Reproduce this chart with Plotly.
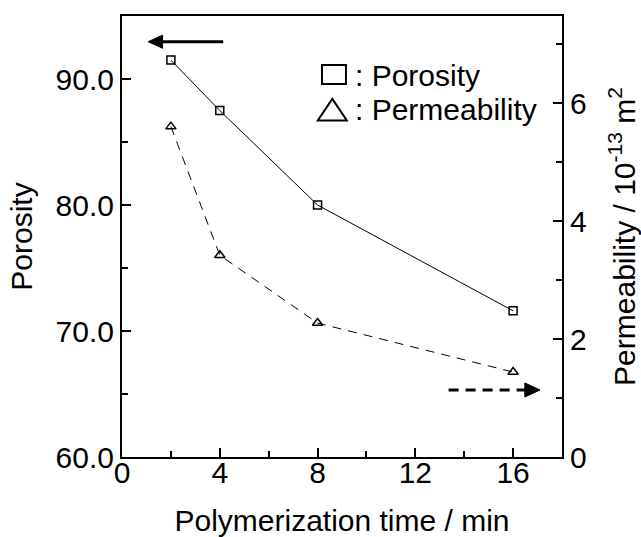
import plotly.graph_objects as go

# Data
time_min = [2, 4, 8, 16]
porosity = [91.5, 87.5, 80.0, 71.6]
permeability = [5.6, 3.42, 2.27, 1.44]

x_ticks = [0, 4, 8, 12, 16]
left_ticks = [60, 70, 80, 90]
right_ticks = [0, 2, 4, 6]

FONT = "Arial, Liberation Sans, sans-serif"
FS = 30

fig = go.Figure()

fig.add_trace(go.Scatter(
    x=time_min, y=porosity, mode="lines+markers", name="Porosity",
    line=dict(color="black", width=1),
    marker=dict(symbol="square-open", size=8, color="black", line=dict(width=1.5)),
    showlegend=False,
))
fig.add_trace(go.Scatter(
    x=time_min, y=permeability, mode="lines+markers", name="Permeability",
    yaxis="y2",
    line=dict(color="black", width=1, dash="9px,7px"),
    marker=dict(symbol="triangle-up-open", size=9, color="black", line=dict(width=1.5)),
    showlegend=False,
))

axis_common = dict(
    showline=True, linecolor="black", linewidth=2,
    ticks="inside", ticklen=9, tickwidth=1.5, tickcolor="black",
    showgrid=False, zeroline=False, automargin=False,
    tickfont=dict(family=FONT, size=FS, color="black"),
)

fig.update_layout(
    width=641, height=537,
    margin=dict(l=122, r=79, t=16, b=80, autoexpand=False),
    paper_bgcolor="white", plot_bgcolor="white",
    font=dict(family=FONT, color="black"),
    xaxis=dict(
        range=[0, 18], tickvals=x_ticks, mirror=True,
        minor=dict(ticks="inside", ticklen=6, tickwidth=1.5, tickcolor="black", dtick=2, tick0=0),
        title=dict(text="Polymerization time / min", font=dict(family=FONT, size=FS), standoff=40),
        ticklabelstandoff=-12,
        **axis_common,
    ),
    yaxis=dict(
        range=[60, 95], tickvals=left_ticks, tickformat=".1f",
        minor=dict(ticks="inside", ticklen=6, tickwidth=1.5, tickcolor="black", dtick=5, tick0=60),
        title=dict(text="Porosity", font=dict(family=FONT, size=FS), standoff=14),
        **axis_common,
    ),
    yaxis2=dict(
        range=[0, 7.475], tickvals=right_ticks, overlaying="y", side="right",
        minor=dict(ticks="inside", ticklen=6, tickwidth=1.5, tickcolor="black", dtick=1, tick0=0),
        title=dict(text="Permeability / 10<sup>-13</sup> m<sup>2</sup>", font=dict(family=FONT, size=FS), standoff=28),
        **axis_common,
    ),
)

# Direction arrows (decorative)
fig.add_shape(type="line", x0=1.6, x1=4.14, y0=92.96, y1=92.96, xref="x", yref="y",
              line=dict(color="black", width=3))
fig.add_shape(type="path", xref="x", yref="y",
              path="M 1.07 92.96 L 1.66 93.48 L 1.66 92.44 Z",
              fillcolor="black", line=dict(color="black", width=1))
fig.add_shape(type="line", x0=13.36, x1=16.5, y0=1.136, y1=1.136, xref="x", yref="y2",
              line=dict(color="black", width=3, dash="10px,7px"))
fig.add_shape(type="path", xref="x", yref="y2",
              path="M 17.10 1.136 L 16.48 1.255 L 16.48 1.017 Z",
              fillcolor="black", line=dict(color="black", width=1))

# Legend drawn as glyphs + text
fig.add_shape(type="rect", xref="paper", yref="paper", x0=0.4545, x1=0.509, y0=0.846, y1=0.889,
              line=dict(color="black", width=2))
fig.add_shape(type="path", xref="paper", yref="paper",
              path="M 0.445 0.763 L 0.511 0.763 L 0.478 0.812 Z",
              line=dict(color="black", width=2))
fig.add_annotation(x=0.525, y=0.866, xref="paper", yref="paper", xanchor="left", yanchor="middle",
                   text=": Porosity", showarrow=False, font=dict(family=FONT, size=FS, color="black"))
fig.add_annotation(x=0.525, y=0.787, xref="paper", yref="paper", xanchor="left", yanchor="middle",
                   text=": Permeability", showarrow=False, font=dict(family=FONT, size=FS, color="black"))

fig.write_html("out.html")
